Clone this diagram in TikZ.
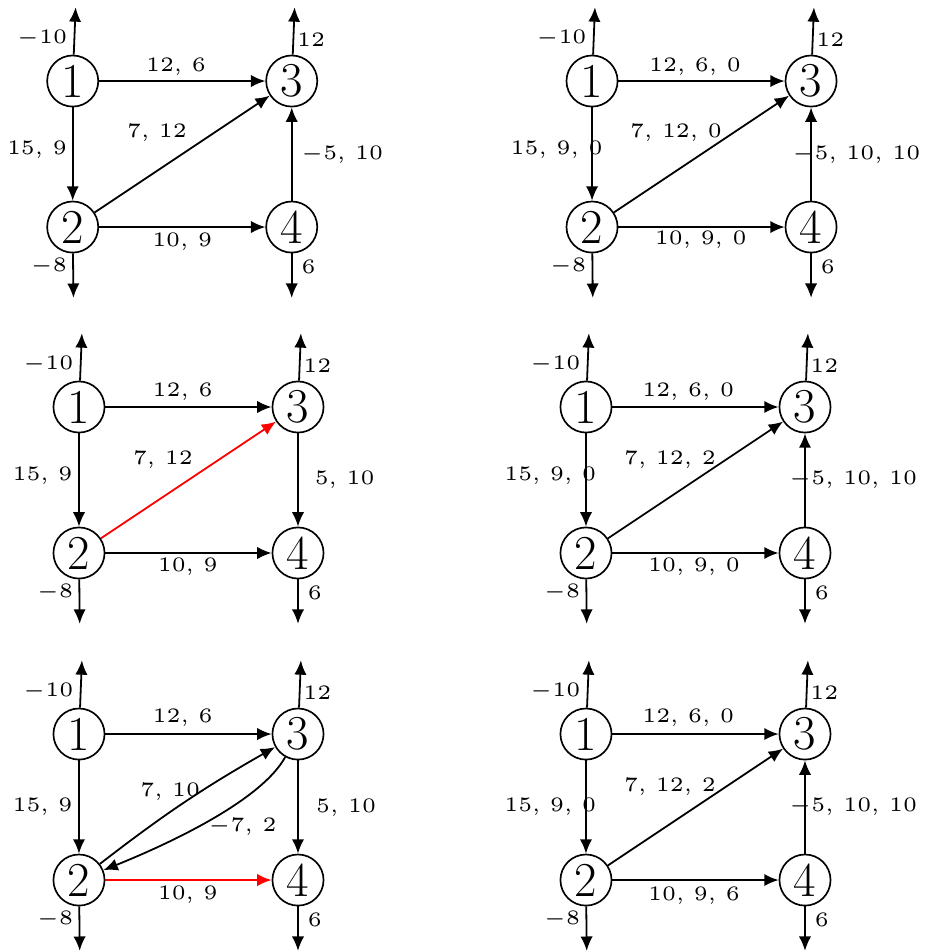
\documentclass[tikz,border=0pt]{standalone}
\usetikzlibrary{arrows.meta}
\font\lblfont=cmr5 at 8pt
\font\lblsym=cmsy5 at 8pt
\newcommand\lminus{{\lblsym\char0}}
% common part of every network: vertices, supplies and the two edges out of 1
\newcommand\netbase[1]{%
  \node[vtx] (#11) at (0,0) {1};
  \node[vtx] (#12) at (0,-2) {2};
  \node[vtx] (#13) at (3,0) {3};
  \node[vtx] (#14) at (3,-2) {4};
  \coordinate (#1s1) at (0.04,1.01);
  \coordinate (#1s2) at (0.01,-2.97);
  \coordinate (#1s3) at (3.04,1.01);
  \coordinate (#1s4) at (3,-2.97);
  \draw[arr] (#11) -- (#1s1);
  \draw[arr] (#12) -- (#1s2);
  \draw[arr] (#13) -- (#1s3);
  \draw[arr] (#14) -- (#1s4);
  \node[lbl] (#1b1) at (-0.42,0.59) {\lminus10};
  \node[lbl] (#1b2) at (-0.33,-2.54) {\lminus8};
  \node[lbl] (#1b3) at (3.265,0.56) {12};
  \node[lbl] (#1b4) at (3.23,-2.54) {6};
  \draw[arr] (#11) -- (#13);
  \draw[arr] (#11) -- (#12);
}

\begin{document}
\begin{tikzpicture}[
   vtx/.style={draw,circle,line width=0.65pt,minimum size=7mm,inner sep=0pt,
               font=\fontsize{19}{20}\selectfont},
   lbl/.style={inner sep=1pt,font=\fontsize{8}{9}\selectfont\lblfont},
   arr/.style={-{Latex[length=5.6pt,width=4.8pt]},line width=0.7pt},
   hot/.style={arr,red}
 ]
  \useasboundingbox (0,0) rectangle (12.712,-13.027);
  % first network
  \begin{scope}[shift={(0.996,-1.110)}]
    \netbase{A}
    \draw[arr] (A2) -- (A3);
    \draw[arr] (A4) -- (A3);
    \draw[arr] (A2) -- (A4);
    \node[lbl] (Al13) at (1.415,0.19) {12, 6};
    \node[lbl] (Al12) at (-0.49,-0.945) {15, 9};
    \node[lbl] (Al23) at (1.155,-0.71) {7, 12};
    \node[lbl] (Al43) at (3.69,-1.01) {\lminus5, 10};
    \node[lbl] (Al24) at (1.5,-2.2) {10, 9};
  \end{scope}
  \begin{scope}[shift={(8.110,-1.110)}]
    \netbase{B}
    \draw[arr] (B2) -- (B3);
    \draw[arr] (B4) -- (B3);
    \draw[arr] (B2) -- (B4);
    \node[lbl] (Bl13) at (1.41,0.195) {12, 6, 0};
    \node[lbl] (Bl12) at (-0.485,-0.945) {15, 9, 0};
    \node[lbl] (Bl23) at (1.15,-0.715) {7, 12, 0};
    \node[lbl] (Bl43) at (3.62,-1.01) {\lminus5, 10, 10};
    \node[lbl] (Bl24) at (1.49,-2.18) {10, 9, 0};
  \end{scope}
  % second network
  \begin{scope}[shift={(1.082,-5.575)}]
    \netbase{C}
    \draw[hot] (C2) -- (C3);
    \draw[arr] (C3) -- (C4);
    \draw[arr] (C2) -- (C4);
    \node[lbl] (Cl13) at (1.42,0.21) {12, 6};
    \node[lbl] (Cl12) at (-0.5,-0.95) {15, 9};
    \node[lbl] (Cl23) at (1.15,-0.73) {7, 12};
    \node[lbl] (Cl34) at (3.64,-1.0) {5, 10};
    \node[lbl] (Cl24) at (1.49,-2.19) {10, 9};
  \end{scope}
  \begin{scope}[shift={(8.027,-5.575)}]
    \netbase{D}
    \draw[arr] (D2) -- (D3);
    \draw[arr] (D4) -- (D3);
    \draw[arr] (D2) -- (D4);
    \node[lbl] (Dl13) at (1.4,0.21) {12, 6, 0};
    \node[lbl] (Dl12) at (-0.49,-0.95) {15, 9, 0};
    \node[lbl] (Dl23) at (1.15,-0.72) {7, 12, 2};
    \node[lbl] (Dl43) at (3.66,-1.0) {\lminus5, 10, 10};
    \node[lbl] (Dl24) at (1.48,-2.19) {10, 9, 0};
  \end{scope}
  % third network
  \begin{scope}[shift={(1.082,-10.055)}]
    \netbase{E}
    \draw[arr] (E2) to[bend left=4] (E3);
    \draw[arr] (E3) to[out=241,in=22,looseness=0.65] (E2);
    \draw[arr] (E3) -- (E4);
    \draw[hot] (E2) -- (E4);
    \node[lbl] (El13) at (1.42,0.22) {12, 6};
    \node[lbl] (El12) at (-0.5,-1.0) {15, 9};
    \node[lbl] (El23) at (1.25,-0.79) {7, 10};
    \node[lbl] (El32) at (2.24,-1.27) {\lminus7, 2};
    \node[lbl] (El34) at (3.66,-1.01) {5, 10};
    \node[lbl] (El24) at (1.49,-2.2) {10, 9};
  \end{scope}
  \begin{scope}[shift={(8.027,-10.055)}]
    \netbase{F}
    \draw[arr] (F2) -- (F3);
    \draw[arr] (F4) -- (F3);
    \draw[arr] (F2) -- (F4);
    \node[lbl] (Fl13) at (1.4,0.22) {12, 6, 0};
    \node[lbl] (Fl12) at (-0.49,-1.0) {15, 9, 0};
    \node[lbl] (Fl23) at (1.15,-0.72) {7, 12, 2};
    \node[lbl] (Fl43) at (3.66,-1.0) {\lminus5, 10, 10};
    \node[lbl] (Fl24) at (1.48,-2.22) {10, 9, 6};
  \end{scope}
\end{tikzpicture}
\end{document}
